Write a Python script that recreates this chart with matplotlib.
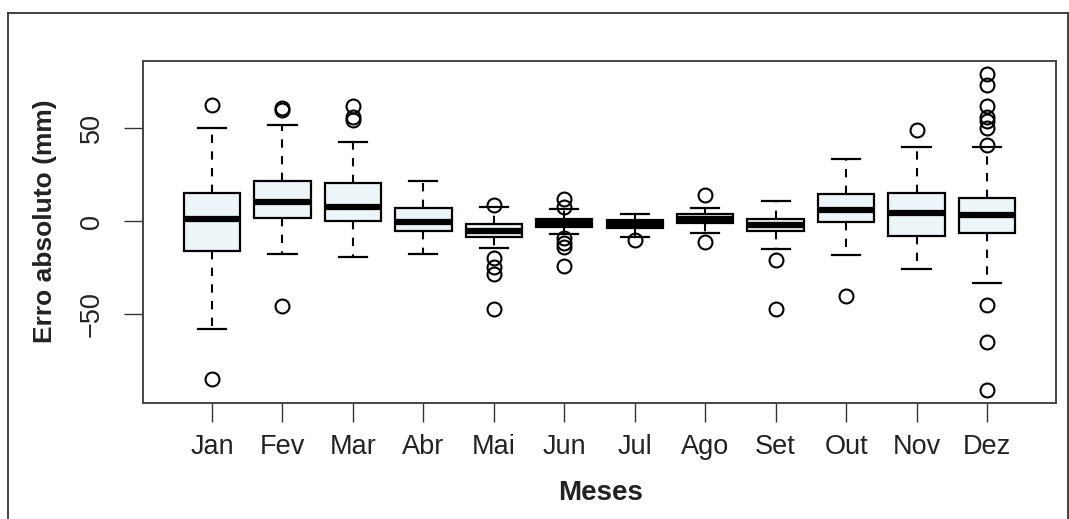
### Import ###

import matplotlib
matplotlib.use("Agg")
import matplotlib.pyplot as plt
from matplotlib.lines import Line2D

### Data ###

meses = ["Jan", "Fev", "Mar", "Abr", "Mai", "Jun", "Jul", "Ago", "Set", "Out", "Nov", "Dez"]

medianas = [1.0, 10.2, 7.8, -0.7, -5.2, -0.9, -1.6, 1.2, -2.0, 5.7, 4.3, 3.4]
q1 = [-16.0, 1.4, 0.2, -5.2, -8.6, -3.0, -3.9, -1.2, -5.3, -0.4, -7.8, -6.6]
q3 = [15.0, 21.6, 20.2, 7.0, -1.6, 1.1, 0.5, 3.7, 1.2, 14.3, 14.8, 12.3]
bigode_inf = [-57.6, -17.8, -19.4, -17.6, -14.3, -7.1, -8.6, -6.6, -15.0, -18.4, -25.7, -33.0]
bigode_sup = [50.0, 51.5, 42.4, 21.2, 7.3, 6.2, 3.6, 7.0, 10.9, 33.3, 39.6, 39.7]

outliers = [
    [62.0, -84.7],
    [60.8, 59.4, -45.6],
    [61.5, 55.8, 54.0],
    [],
    [8.6, -19.6, -24.8, -28.3, -47.0],
    [11.8, 7.7, -9.3, -11.6, -13.7, -24.0],
    [-10.2],
    [13.7, -11.4],
    [-20.9, -46.9],
    [-40.1],
    [49.0],
    [79.0, 72.7, 61.5, 55.8, 53.6, 49.6, 40.6, -44.9, -64.5, -90.7],
]

### Figure ###

plt.rcParams['font.family'] = ['Liberation Sans', 'DejaVu Sans']

W, H = 1069, 519
fig = plt.figure(figsize=(W / 100, H / 100), dpi=100)
fig.patch.set_facecolor("white")

# outer frame of the original picture (top, left, right)
frame_col = "#333333"
fig.add_artist(Line2D([7.5 / W, 7.5 / W], [0, 1 - 12.5 / H], color=frame_col, lw=1.3))
fig.add_artist(Line2D([7.5 / W, 1067.5 / W], [1 - 12.5 / H, 1 - 12.5 / H], color=frame_col, lw=1.3))
fig.add_artist(Line2D([1067.5 / W, 1067.5 / W], [0, 1 - 12.5 / H], color=frame_col, lw=1.3))

ax = fig.add_axes([143 / W, 1 - 403 / H, (1056 - 143) / W, (403 - 61) / H])

stats = []
for i, m in enumerate(meses):
    stats.append(dict(label=m, med=medianas[i], q1=q1[i], q3=q3[i],
                      whislo=bigode_inf[i], whishi=bigode_sup[i], fliers=outliers[i]))

ax.bxp(stats, positions=range(1, 13), widths=0.8, patch_artist=True,
       boxprops=dict(facecolor="#ECF6F8", edgecolor="black", linewidth=1.6),
       medianprops=dict(color="black", linewidth=4.5, solid_capstyle="butt"),
       whiskerprops=dict(color="black", linewidth=1.5, linestyle=(0, (4, 4))),
       capprops=dict(color="black", linewidth=1.6),
       capwidths=0.4,
       flierprops=dict(marker="o", markerfacecolor="none", markeredgecolor="black",
                       markersize=10, markeredgewidth=1.5, linestyle="none"))

ax.set_xlim(0.02, 12.98)
ax.set_ylim(-97.4, 85.7)

ax.set_yticks([-50, 0, 50])
ax.set_yticklabels(["\u221250", "0", "50"], rotation=90, va="center")
ax.set_xticks(range(1, 13))
ax.set_xticklabels(meses)

txt_col = "#222222"
ax.tick_params(axis="both", length=13.5, width=1.0, color="#333333",
               labelsize=19.5, labelcolor=txt_col)
ax.tick_params(axis="x", pad=9)
ax.tick_params(axis="y", pad=14)

for s in ax.spines.values():
    s.set_color("#444444")
    s.set_linewidth(1.4)

fig.text(45 / W, 1 - 221 / H, "Erro absoluto (mm)", rotation=90, ha="center", va="center",
         fontsize=19, fontweight="bold", color=txt_col)
fig.text(601 / W, 1 - 493 / H, "Meses", ha="center", va="center",
         fontsize=20, fontweight="bold", color=txt_col)

fig.savefig("out.png", dpi=100)
